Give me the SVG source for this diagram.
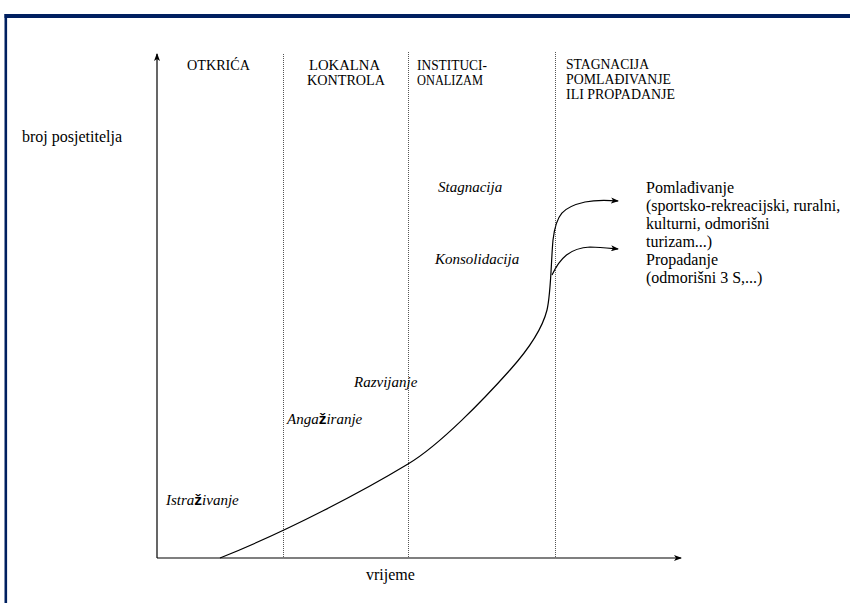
<svg xmlns="http://www.w3.org/2000/svg" width="850" height="603" viewBox="0 0 850 603">
<defs>
<marker id="ah" markerWidth="8" markerHeight="6" refX="7" refY="3" orient="auto" markerUnits="userSpaceOnUse">
<path d="M0,0 L8,3 L0,6 L2,3 Z" fill="#000"/>
</marker>
</defs>
<style>
text{fill:#000;font-family:"Liberation Serif","Times New Roman",serif}
.h{font-size:14px}
.it{font-size:15px;font-style:italic}
.r{font-size:16px}
.z{font-family:"Liberation Sans",Arial,sans-serif;font-weight:bold;font-style:normal;font-size:15.5px}
.dot{stroke:#555;stroke-width:1;stroke-dasharray:1,1;fill:none}
.ln{stroke:#000;stroke-width:1.2;fill:none}
</style>
<rect width="850" height="603" fill="#fff"/>
<g id="frame">
<rect x="4.5" y="14" width="846" height="4" fill="#002060"/>
<rect x="4.5" y="14" width="2.6" height="589" fill="#002060"/>
</g>
<g id="axes">
<line class="ln" x1="157" y1="558" x2="157" y2="54" marker-end="url(#ah)"/>
<line class="ln" x1="157" y1="558" x2="681" y2="558" marker-end="url(#ah)"/>
</g>
<g id="dividers">
<line class="dot" x1="283.5" y1="54" x2="283.5" y2="558"/>
<line class="dot" x1="408.5" y1="52" x2="408.5" y2="558"/>
<line class="dot" x1="555.5" y1="52" x2="555.5" y2="558"/>
</g>
<g id="headers">
<text class="h" x="187" y="70" textLength="63" lengthAdjust="spacingAndGlyphs">OTKRIĆA</text>
<text class="h" x="309" y="70" textLength="71" lengthAdjust="spacingAndGlyphs">LOKALNA</text>
<text class="h" x="307" y="85" textLength="78" lengthAdjust="spacingAndGlyphs">KONTROLA</text>
<text class="h" x="417" y="70" textLength="70" lengthAdjust="spacingAndGlyphs">INSTITUCI-</text>
<text class="h" x="417" y="85" textLength="66" lengthAdjust="spacingAndGlyphs">ONALIZAM</text>
<text class="h" x="566" y="69" textLength="83" lengthAdjust="spacingAndGlyphs">STAGNACIJA</text>
<text class="h" x="566" y="84" textLength="105" lengthAdjust="spacingAndGlyphs">POMLAĐIVANJE</text>
<text class="h" x="566" y="99" textLength="109" lengthAdjust="spacingAndGlyphs">ILI PROPADANJE</text>
</g>
<g id="axis-labels">
<text class="r" x="22" y="142">broj posjetitelja</text>
<text class="r" x="366" y="580">vrijeme</text>
</g>
<g id="stages">
<text class="it" x="166" y="505">Istra<tspan class="z">ž</tspan>ivanje</text>
<text class="it" x="287" y="424">Anga<tspan class="z">ž</tspan>iranje</text>
<text class="it" x="354" y="387">Razvijanje</text>
<text class="it" x="435" y="264">Konsolidacija</text>
<text class="it" x="438" y="192">Stagnacija</text>
</g>
<g id="outcomes">
<text class="r" x="646" y="193">Pomlađivanje</text>
<text class="r" x="646" y="211">(sportsko-rekreacijski, ruralni,</text>
<text class="r" x="646" y="229">kulturni, odmorišni</text>
<text class="r" x="646" y="247">turizam...)</text>
<text class="r" x="646" y="265">Propadanje</text>
<text class="r" x="646" y="283">(odmorišni 3 S,...)</text>
</g>
<g id="connectors">
<path class="ln" d="M220,558 C290,530 365,490 408,464 C440,445 485,398 510,370 C527,351 542,330 547,310 C551,293 551,262 553,240 C556,214 563,207 585,202 C595,200 605,200 618,201" marker-end="url(#ah)"/>
<path class="ln" d="M552,275 C560,258 570,248 590,247 C600,247 608,248 618,249" marker-end="url(#ah)"/>
</g>
</svg>
